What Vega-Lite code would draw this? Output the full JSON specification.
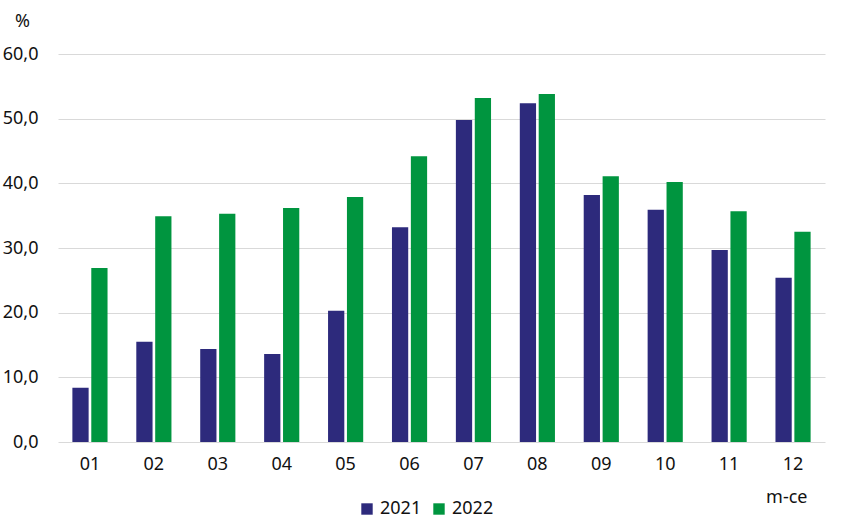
{
  "$schema": "https://vega.github.io/schema/vega-lite/v6.json",
  "autosize": "none",
  "width": 767,
  "height": 388,
  "padding": {"left": 58, "top": 54, "right": 16, "bottom": 85},
  "background": "white",
  "data": {
    "values": [
      {"m": "01", "year": "2021", "v": 8.4}, {"m": "01", "year": "2022", "v": 26.9},
      {"m": "02", "year": "2021", "v": 15.5}, {"m": "02", "year": "2022", "v": 34.9},
      {"m": "03", "year": "2021", "v": 14.4}, {"m": "03", "year": "2022", "v": 35.3},
      {"m": "04", "year": "2021", "v": 13.6}, {"m": "04", "year": "2022", "v": 36.2},
      {"m": "05", "year": "2021", "v": 20.3}, {"m": "05", "year": "2022", "v": 37.9},
      {"m": "06", "year": "2021", "v": 33.2}, {"m": "06", "year": "2022", "v": 44.2},
      {"m": "07", "year": "2021", "v": 49.8}, {"m": "07", "year": "2022", "v": 53.2},
      {"m": "08", "year": "2021", "v": 52.4}, {"m": "08", "year": "2022", "v": 53.8},
      {"m": "09", "year": "2021", "v": 38.2}, {"m": "09", "year": "2022", "v": 41.1},
      {"m": "10", "year": "2021", "v": 35.9}, {"m": "10", "year": "2022", "v": 40.2},
      {"m": "11", "year": "2021", "v": 29.7}, {"m": "11", "year": "2022", "v": 35.7},
      {"m": "12", "year": "2021", "v": 25.4}, {"m": "12", "year": "2022", "v": 32.5}
    ]
  },
  "mark": {"type": "bar"},
  "encoding": {
    "x": {
      "field": "m", "type": "nominal",
      "scale": {"paddingInner": 0.45, "paddingOuter": 0.225},
      "axis": {
        "labelAngle": 0, "labelFontSize": 18, "labelColor": "#111", "labelPadding": 13,
        "ticks": false, "domain": false, "grid": false,
        "title": "m-ce", "titleFontSize": 18, "titleFontWeight": "normal", "titleColor": "#111",
        "titleAnchor": "end", "titleAlign": "right", "titleX": 749, "titleY": 55, "titleBaseline": "middle"
      }
    },
    "xOffset": {"field": "year", "type": "nominal", "scale": {"paddingInner": 0.14}},
    "y": {
      "field": "v", "type": "quantitative",
      "scale": {"domain": [0, 60]},
      "axis": {
        "values": [0, 10, 20, 30, 40, 50, 60],
        "labelExpr": "replace(format(datum.value, '.1f'), '.', ',')",
        "labelFontSize": 18, "labelColor": "#111", "labelPadding": 20,
        "ticks": false, "domain": false, "gridColor": "#d9d9d9", "gridWidth": 1,
        "title": "%", "titleAngle": 0, "titleFontSize": 18, "titleFontWeight": "normal", "titleColor": "#111",
        "titleX": -36, "titleY": -33, "titleBaseline": "middle", "titleAlign": "center"
      }
    },
    "color": {
      "field": "year", "type": "nominal",
      "scale": {"domain": ["2021", "2022"], "range": ["#2d2a7c", "#00953f"]},
      "legend": {
        "title": null, "orient": "none", "direction": "horizontal",
        "legendX": 300, "legendY": 446,
        "symbolType": "square", "symbolSize": 130, "symbolOpacity": 1,
        "labelFontSize": 18, "labelColor": "#111", "columnPadding": 8, "labelOffset": 4
      }
    }
  },
  "config": {
    "font": "Noto Sans",
    "view": {"stroke": null}
  }
}
